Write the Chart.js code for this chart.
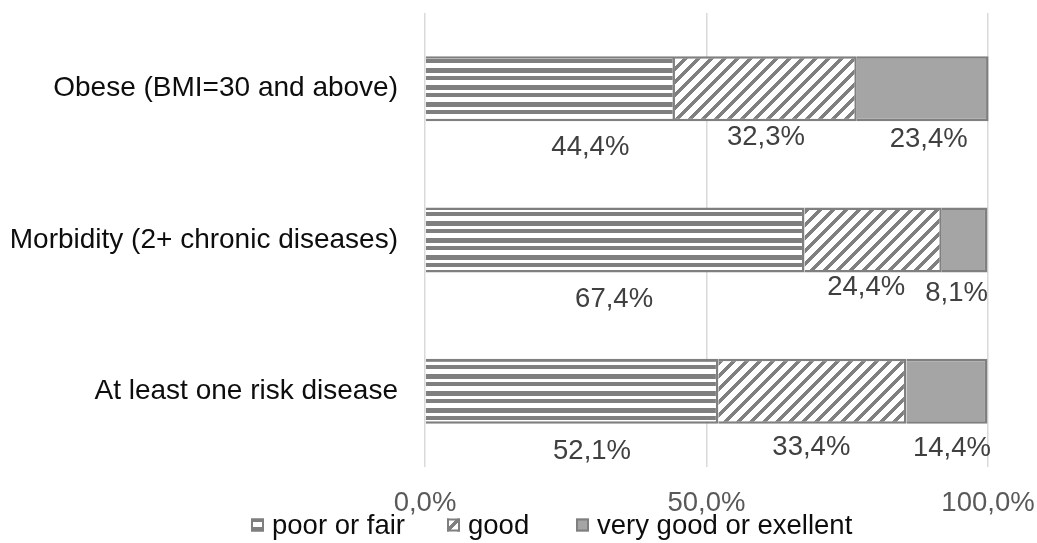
<!DOCTYPE html>
<html>
<head>
<meta charset="utf-8">
<script src="https://cdn.jsdelivr.net/npm/chart.js@4.4.1/dist/chart.umd.min.js"></script>
<style>
  html, body { margin: 0; padding: 0; background: #ffffff; }
  #wrap { width: 1037px; height: 543px; }
</style>
</head>
<body>
<div id="wrap"><canvas id="c" width="1037" height="543"></canvas></div>
<script>
// Self-rated health by risk group (shares of respondents, %)
const categories = ['Obese (BMI=30 and above)', 'Morbidity (2+ chronic diseases)', 'At least one risk disease'];
const seriesNames = ['poor or fair', 'good', 'very good or exellent'];
const poorOrFair = [44.4, 67.4, 52.1];
const good = [32.3, 24.4, 33.4];
const veryGoodOrExcellent = [23.4, 8.1, 14.4];
const tickValues = [0, 50, 100];

const FONT = "'Liberation Sans', Arial, Helvetica, sans-serif";
const GRAY = '#7f7f7f';
const LIGHT = '#a5a5a5';

const fmt = v => v.toFixed(1).replace('.', ',') + '%';

// Fill patterns for the bar segments
function stripePattern() {
  const c = document.createElement('canvas');
  c.width = 4; c.height = 17;
  const g = c.getContext('2d');
  g.fillStyle = '#ffffff'; g.fillRect(0, 0, 4, 17);
  g.fillStyle = GRAY;
  g.fillRect(0, 0, 4, 5);
  g.fillRect(0, 8, 4, 4);
  return g.createPattern(c, 'repeat');
}
function hatchPattern() {
  const n = 13;
  const c = document.createElement('canvas');
  c.width = n; c.height = n;
  const g = c.getContext('2d');
  const img = g.createImageData(n, n);
  for (let y = 0; y < n; y++) {
    for (let x = 0; x < n; x++) {
      const k = (y * n + x) * 4;
      const dark = ((x + y) % n) < 5;
      const v = dark ? 127 : 255;
      img.data[k] = v; img.data[k + 1] = v; img.data[k + 2] = v; img.data[k + 3] = 255;
    }
  }
  g.putImageData(img, 0, 0);
  return g.createPattern(c, 'repeat');
}

// Label placement below each segment: horizontal shift from segment centre,
// vertical distance from the bar's lower edge to the text centre
const labelNudge = [
  [{ dx: 40, dy: 26 }, { dx: -1, dy: 27 }, { dx: 20, dy: 28 }],
  [{ dx: 0, dy: 16 }, { dx: -7, dy: 15 }, { dx: -1, dy: 24 }],
  [{ dx: 6, dy: 18 }, { dx: -8, dy: 21 }, { dx: 5, dy: 25 }]
];

const segmentLabels = {
  id: 'segmentLabels',
  afterDatasetsDraw(chart) {
    const ctx = chart.ctx;
    ctx.save();
    ctx.font = '27.5px ' + FONT;
    ctx.fillStyle = '#404040';
    ctx.textAlign = 'center';
    ctx.textBaseline = 'middle';
    chart.data.datasets.forEach((ds, di) => {
      const meta = chart.getDatasetMeta(di);
      meta.data.forEach((bar, i) => {
        const p = bar.getProps(['x', 'y', 'base', 'height'], true);
        const n = labelNudge[di][i];
        const cx = (p.x + p.base) / 2 + n.dx;
        const cy = p.y + p.height / 2 + n.dy;
        ctx.fillText(fmt(ds.data[i]), cx, cy);
      });
    });
    ctx.restore();
  }
};

// Legend row under the axis
const legendRow = {
  id: 'legendRow',
  afterDraw(chart, args, opts) {
    const ctx = chart.ctx;
    ctx.save();
    ctx.font = '27.5px ' + FONT;
    ctx.textBaseline = 'middle';
    ctx.textAlign = 'left';
    chart.data.datasets.forEach((ds, di) => {
      const x = opts.itemX[di];
      const y = opts.y;
      const s = opts.box;
      ctx.fillStyle = ds.backgroundColor;
      ctx.fillRect(x, y - s / 2, s, s);
      ctx.strokeStyle = GRAY;
      ctx.lineWidth = 2;
      ctx.strokeRect(x + 1, y - s / 2 + 1, s - 2, s - 2);
      ctx.fillStyle = '#0d0d0d';
      ctx.fillText(ds.label, x + s + opts.gap, y + 1);
    });
    ctx.restore();
  }
};

const edge = { top: 2.5, right: 2.5, bottom: 2.5, left: 0 };
const barStyle = {
  borderColor: GRAY,
  borderWidth: edge,
  borderSkipped: false,
  barPercentage: 0.43,
  categoryPercentage: 1,
  clip: 4
};

new Chart(document.getElementById('c'), {
  type: 'bar',
  data: {
    labels: categories,
    datasets: [
      Object.assign({ label: seriesNames[0], data: poorOrFair, backgroundColor: stripePattern() }, barStyle),
      Object.assign({ label: seriesNames[1], data: good, backgroundColor: hatchPattern() }, barStyle),
      Object.assign({ label: seriesNames[2], data: veryGoodOrExcellent, backgroundColor: LIGHT }, barStyle)
    ]
  },
  options: {
    responsive: false,
    animation: false,
    indexAxis: 'y',
    layout: { padding: { top: 13, right: 49, left: 0, bottom: 0 } },
    plugins: {
      legend: { display: false },
      tooltip: { enabled: false },
      legendRow: { itemX: [251, 447, 576], y: 525, box: 13, gap: 8 }
    },
    scales: {
      x: {
        stacked: true,
        min: 0,
        max: 100,
        afterBuildTicks: s => { s.ticks = tickValues.map(v => ({ value: v })); },
        ticks: {
          callback: v => fmt(v),
          color: '#595959',
          font: { family: FONT, size: 27.5 },
          padding: 20,
          maxRotation: 0,
          autoSkip: false
        },
        grid: { color: '#d9d9d9', lineWidth: 1.5, drawTicks: false },
        border: { display: false },
        afterFit: s => { s.height = 76; s.paddingLeft = 0; s.paddingRight = 0; }
      },
      y: {
        stacked: true,
        grid: { display: false },
        border: { display: false },
        ticks: {
          color: '#0d0d0d',
          font: { family: FONT, size: 28 },
          padding: 19
        },
        afterFit: s => { s.width = 425; s.paddingTop = 0; s.paddingBottom = 0; }
      }
    }
  },
  plugins: [segmentLabels, legendRow]
});
</script>
</body>
</html>
